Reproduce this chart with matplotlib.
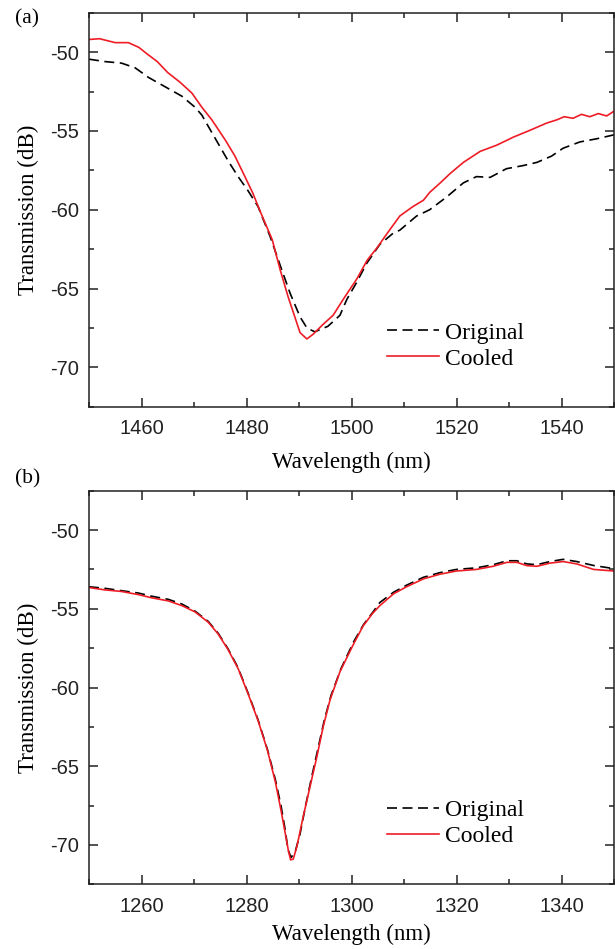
import matplotlib
matplotlib.use('Agg')
import matplotlib.pyplot as plt
from matplotlib.ticker import MultipleLocator

plt.rcParams['font.family'] = 'Liberation Sans'
plt.rcParams['axes.linewidth'] = 1.1
plt.rcParams['axes.unicode_minus'] = False

# panel (a), 1450-1550 nm
wl_a_orig = [1450, 1453, 1456.2, 1458.8, 1461.3, 1464.5, 1467.7, 1470.2, 1471.5, 1472.7,
             1474.6, 1476.5, 1478.4, 1480.3, 1482.2, 1484.5, 1486.7, 1488.3, 1490.2, 1491.5,
             1493, 1495.5, 1497.8, 1499.1, 1501, 1502.9, 1505.4, 1507.9, 1509.2, 1512.4,
             1514.9, 1518.1, 1521.3, 1523.8, 1526.4, 1529.5, 1532.7, 1535.3, 1538.1, 1540.3,
             1543.5, 1546.7, 1550]
tr_a_orig = [-50.45, -50.6, -50.7, -51.0, -51.6, -52.2, -52.8, -53.5, -54.0, -54.7,
             -55.8, -56.9, -57.9, -58.8, -59.8, -61.7, -63.8, -65.3, -66.8, -67.5,
             -67.75, -67.4, -66.7, -65.7, -64.6, -63.4, -62.2, -61.5, -61.3, -60.4,
             -60.0, -59.2, -58.3, -57.9, -57.95, -57.4, -57.2, -57.0, -56.6, -56.1,
             -55.7, -55.5, -55.25]

wl_a_cool = [1450, 1452, 1455, 1457.5, 1459.5, 1461, 1463, 1465, 1467.3, 1469.6,
             1471.5, 1473.4, 1476, 1477.8, 1479.7, 1481.2, 1483.1, 1484.9, 1486.4, 1487.9,
             1489.6, 1490.2, 1491.5, 1492.7, 1494.5, 1496.5, 1498.4, 1501, 1503, 1504.9,
             1506.8, 1509.2, 1511.7, 1513.7, 1514.9, 1516.9, 1518.8, 1521.3, 1524.5, 1527.7,
             1530.8, 1534, 1537.2, 1539.1, 1540.5, 1542.2, 1543.8, 1545.4, 1547, 1548.6, 1550]
tr_a_cool = [-49.2, -49.15, -49.4, -49.4, -49.7, -50.1, -50.6, -51.3, -51.9, -52.6,
             -53.5, -54.3, -55.6, -56.6, -57.9, -58.95, -60.5, -61.9, -63.8, -65.5,
             -67.2, -67.8, -68.2, -67.9, -67.3, -66.7, -65.7, -64.4, -63.2, -62.4,
             -61.5, -60.4, -59.8, -59.4, -58.9, -58.3, -57.7, -57.0, -56.3, -55.9,
             -55.4, -54.96, -54.5, -54.3, -54.1, -54.2, -53.95, -54.1, -53.9, -54.05, -53.75]

# panel (b), 1250-1350 nm
wl_b_orig = [1250, 1253, 1256.2, 1259.4, 1261.9, 1265.1, 1267.7, 1270.2, 1272.7, 1274.6,
             1276.5, 1278.4, 1280.3, 1282.2, 1284, 1285.5, 1286.6, 1287.4, 1287.9, 1288.5,
             1289.3, 1290.2, 1291.2, 1292.4, 1293.6, 1294.8, 1296.1, 1298, 1300.4, 1302.3,
             1304.1, 1305.4, 1308, 1310.5, 1313.7, 1316.9, 1320, 1323.8, 1327, 1329.6,
             1331.5, 1333.4, 1335.3, 1337.8, 1340.3, 1342.9, 1346.1, 1350]
tr_b_orig = [-53.6, -53.7, -53.85, -54.0, -54.2, -54.4, -54.7, -55.15, -55.8, -56.55,
             -57.55, -58.75, -60.35, -62.05, -63.95, -65.85, -67.55, -69.1, -70.3, -70.8,
             -70.4, -69.3, -67.6, -65.7, -63.9, -62.1, -60.5, -58.8, -57.1, -56.0,
             -55.2, -54.6, -53.95, -53.5, -53.0, -52.7, -52.5, -52.4, -52.2, -51.95,
             -51.95, -52.15, -52.2, -52.0, -51.86, -52.0, -52.25, -52.45]

wl_b_cool = [1250, 1253, 1256.2, 1259.4, 1261.9, 1265.1, 1267.7, 1270.2, 1272.7, 1274.6,
             1276.5, 1278.4, 1280.3, 1282.2, 1284, 1285.5, 1286.6, 1287.4, 1288.0, 1288.4,
             1288.9, 1289.6, 1290.8, 1292.1, 1293.4, 1294.6, 1295.9, 1297.8, 1300.3, 1302.2,
             1304, 1305.4, 1308, 1310.5, 1313.7, 1316.9, 1320, 1323.8, 1327, 1329.6,
             1331.5, 1333.4, 1335.3, 1337.8, 1340.3, 1342.9, 1346.1, 1350]
tr_b_cool = [-53.65, -53.8, -53.9, -54.1, -54.3, -54.5, -54.8, -55.2, -55.85, -56.6,
             -57.6, -58.8, -60.4, -62.1, -64.0, -66.0, -67.85, -69.3, -70.4, -70.95,
             -70.9, -70.1, -68.2, -66.3, -64.4, -62.5, -60.8, -59.0, -57.3, -56.1,
             -55.3, -54.8, -54.05, -53.6, -53.1, -52.8, -52.6, -52.5, -52.3, -52.05,
             -52.05, -52.26, -52.3, -52.1, -52.0, -52.15, -52.5, -52.6]

panels = [('(a)', wl_a_orig, tr_a_orig, wl_a_cool, tr_a_cool, (1450, 1550)),
          ('(b)', wl_b_orig, tr_b_orig, wl_b_cool, tr_b_cool, (1250, 1350))]

fig = plt.figure(figsize=(6.15, 9.49), dpi=100)
boxes = [[89/615, 1 - 406.7/949, 525/615, 394/949],
         [89/615, 1 - 884.3/949, 525/615, 393.6/949]]
tag_y = [1 - 19/949, 1 - 479/949]
xpads = [10, 6]

for i, (tag, wo, to, wc, tc, xl) in enumerate(panels):
    ax = fig.add_axes(boxes[i])
    ax.plot(wo, to, color='black', lw=1.2, dashes=(6, 3.3), label='Original')
    ax.plot(wc, tc, color='#ee1c25', lw=1.2, label='Cooled')
    ax.set_xlim(*xl)
    ax.set_ylim(-72.5, -47.5)
    ax.xaxis.set_major_locator(MultipleLocator(20))
    ax.xaxis.set_minor_locator(MultipleLocator(10))
    ax.yaxis.set_major_locator(MultipleLocator(5))
    ax.yaxis.set_minor_locator(MultipleLocator(2.5))
    ax.tick_params(which='both', direction='in', top=True, right=True, width=1.1,
                   colors='#222222', labelsize=14.5)
    ax.tick_params(which='major', length=6.5, pad=7)
    ax.tick_params(axis='x', which='major', pad=9)
    ax.tick_params(which='minor', length=3.5)
    for s in ax.spines.values():
        s.set_color('#222222')
    ax.set_xlabel('Wavelength (nm)', family='Liberation Serif', fontsize=16.5,
                  labelpad=xpads[i])
    ax.set_ylabel('Transmission (dB)', family='Liberation Serif', fontsize=16.5, labelpad=8)
    leg = ax.legend(loc='upper left', bbox_to_anchor=(0.545, 0.245), frameon=False,
                    prop={'family': 'Liberation Serif', 'size': 17},
                    handlelength=2.2, handletextpad=0.25, labelspacing=0.2, borderpad=0)
    fig.text(15/615, tag_y[i], tag, family='Liberation Serif', fontsize=15.5, va='center')

fig.savefig('out.png', dpi=100)
